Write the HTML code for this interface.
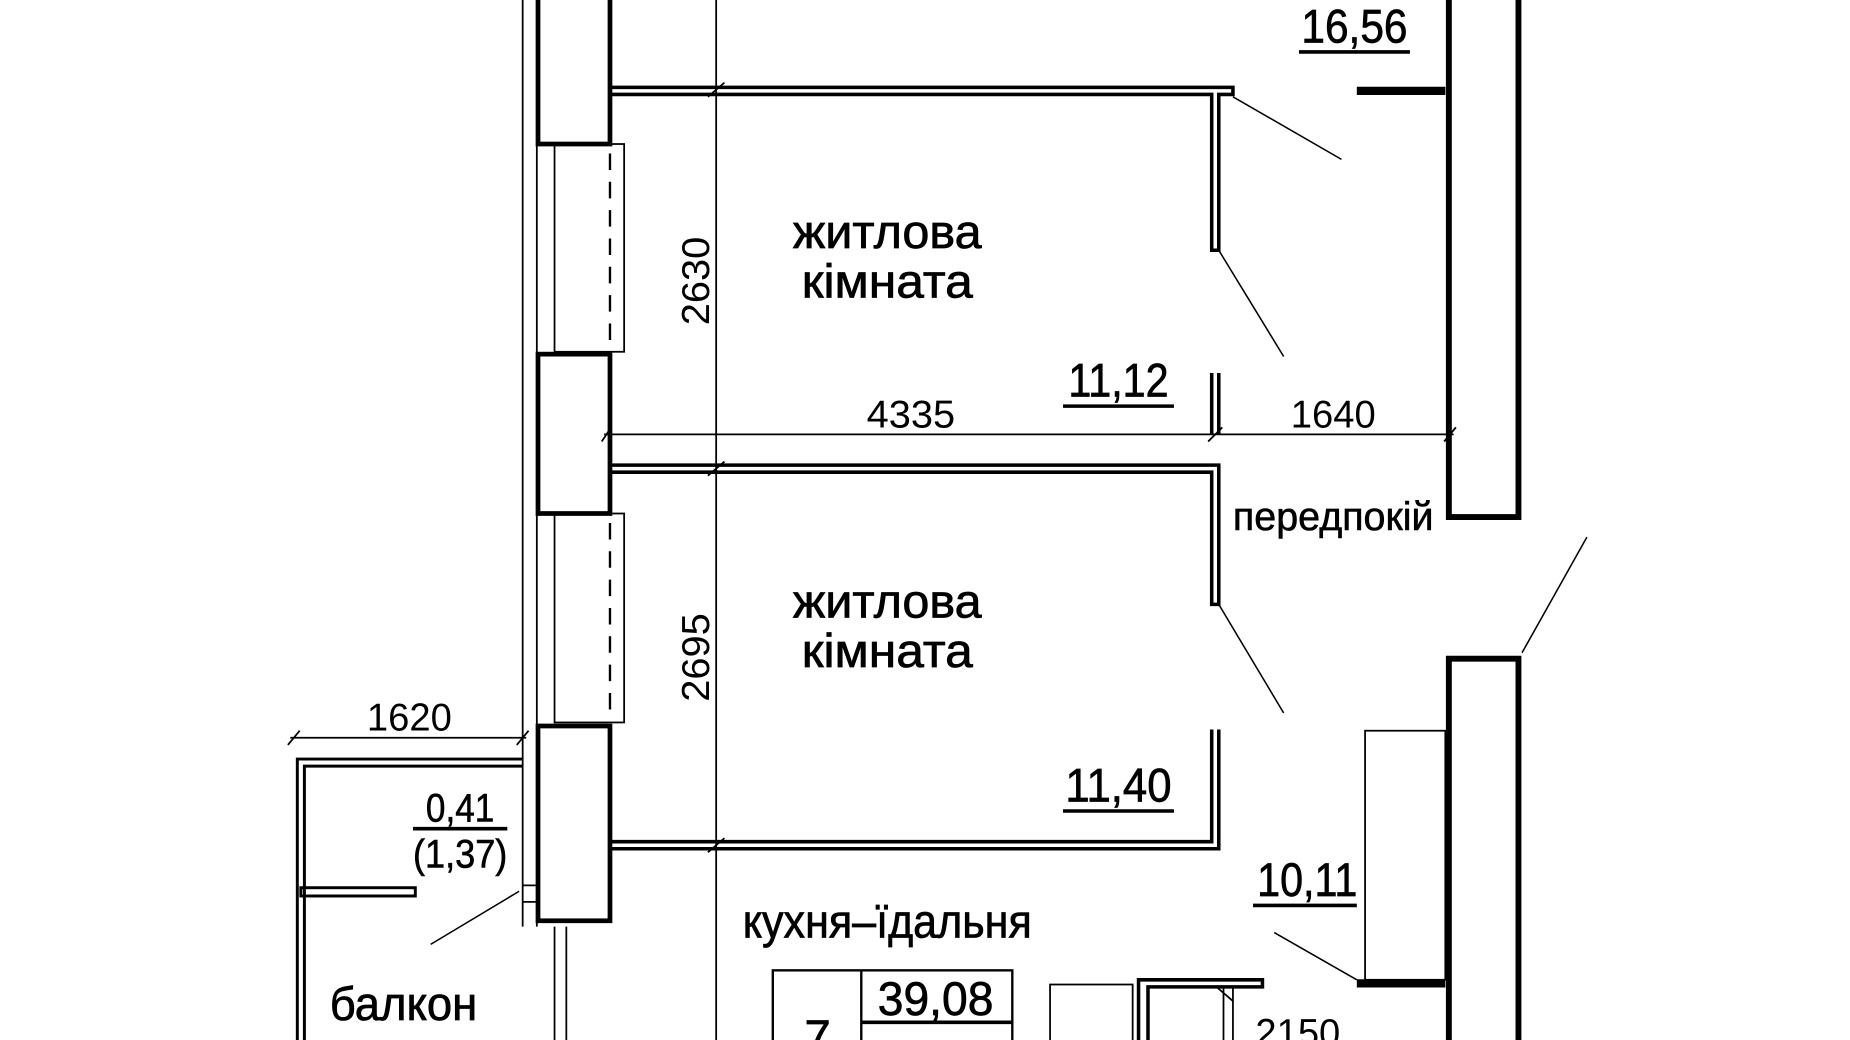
<!DOCTYPE html>
<html><head><meta charset="utf-8"><style>
html,body{margin:0;padding:0;background:#fff;}
svg{display:block;}
text{font-family:"Liberation Sans","DejaVu Sans",sans-serif;fill:#000;}
</style></head><body>
<svg width="1850" height="1040" viewBox="0 0 1568 881" preserveAspectRatio="none" xmlns="http://www.w3.org/2000/svg">
<rect width="1568" height="881" fill="#fff"/>
<g fill="none" stroke="#000">
<line x1="443" y1="0" x2="443" y2="785" stroke-width="1.5"/>
<line x1="455" y1="0" x2="455" y2="785" stroke-width="1.5"/>
<rect x="456" y="-5" width="61" height="127" stroke-width="4"/>
<rect x="456" y="300" width="61" height="135" stroke-width="4"/>
<rect x="456" y="615" width="61" height="165" stroke-width="4"/>
<rect x="470" y="122" width="59" height="176" stroke-width="1.5"/>
<rect x="470" y="435" width="59" height="177" stroke-width="1.5"/>
<line x1="517" y1="130" x2="517" y2="292" stroke-width="2" stroke-dasharray="14,10"/>
<line x1="517" y1="443" x2="517" y2="606" stroke-width="2" stroke-dasharray="14,10"/>
<path d="M517 74 H1045 V80 H1033 V212 H1027 V80 H517" stroke-width="3"/>
<path d="M1150 77 H1225" stroke-width="7"/>
<path d="M1027 316 V368 M1033 316 V368" stroke-width="3"/>
<path d="M517 394 H1033 V512 H1027 V400 H517" stroke-width="3"/>
<path d="M1027 618 V713 H517 M1033 618 V719 H517" stroke-width="3"/>
<rect x="1228" y="-5" width="59" height="443" stroke-width="5"/>
<rect x="1228" y="558" width="59" height="330" stroke-width="5"/>
<rect x="1157" y="619" width="68" height="211" stroke-width="1.5"/>
<path d="M1150 833 H1225" stroke-width="7"/>
<g stroke-width="1.3">
<line x1="1045" y1="82" x2="1137" y2="135"/>
<line x1="1033" y1="212" x2="1088" y2="302"/>
<line x1="1033" y1="512" x2="1088" y2="604"/>
<line x1="1290" y1="553" x2="1345" y2="455"/>
<line x1="1080" y1="790" x2="1150" y2="830"/>
<line x1="365" y1="800" x2="440" y2="755"/>
</g>
<g stroke-width="1.5">
<line x1="607" y1="0" x2="607" y2="881"/>
<line x1="512" y1="368" x2="1232" y2="368"/>
<line x1="246" y1="625" x2="446" y2="625"/>
<line x1="600" y1="82" x2="614" y2="70"/>
<line x1="600" y1="403" x2="614" y2="391"/>
<line x1="600" y1="722" x2="614" y2="710"/>
<line x1="510" y1="374" x2="518" y2="362"/>
<line x1="1024" y1="374" x2="1036" y2="362"/>
<line x1="1224" y1="374" x2="1234" y2="362"/>
<line x1="244" y1="631" x2="254" y2="619"/>
<line x1="438" y1="631" x2="448" y2="619"/>
<line x1="1045" y1="836" x2="1045" y2="881"/>
</g>
<path d="M443 643 H252 V881 M443 649 H258 V881" stroke-width="2.5"/>
<rect x="255" y="752" width="97" height="7" stroke-width="2.5"/>
<path d="M443 750 H455 M443 764 H455" stroke-width="1.5"/>
<path d="M470 785 V881 M480 785 V881" stroke-width="1.5"/>
<rect x="655" y="822" width="203" height="70" stroke-width="2"/>
<line x1="730" y1="822" x2="730" y2="881" stroke-width="2"/>
<line x1="730" y1="866" x2="858" y2="866" stroke-width="3"/>
<rect x="890" y="834" width="70" height="60" stroke-width="1.5"/>
<path d="M965 881 V830 H1070 V836 H973 V881" stroke-width="3"/>
<line x1="1037" y1="836" x2="1037" y2="881" stroke-width="1.5"/>
<line x1="1031" y1="836" x2="1045" y2="848" stroke-width="1.5"/>
</g>
<g font-size="40" stroke="#000" stroke-width="0.6">
<text x="1148" y="36" text-anchor="middle" textLength="90" lengthAdjust="spacingAndGlyphs">16,56</text>
<text x="752" y="210" text-anchor="middle" textLength="160" lengthAdjust="spacingAndGlyphs">житлова</text>
<text x="752" y="252" text-anchor="middle" textLength="145" lengthAdjust="spacingAndGlyphs">кімната</text>
<text x="948" y="336" text-anchor="middle" textLength="85" lengthAdjust="spacingAndGlyphs">11,12</text>
<text x="752" y="523" text-anchor="middle" textLength="160" lengthAdjust="spacingAndGlyphs">житлова</text>
<text x="752" y="565" text-anchor="middle" textLength="145" lengthAdjust="spacingAndGlyphs">кімната</text>
<text x="948" y="679" text-anchor="middle" textLength="90" lengthAdjust="spacingAndGlyphs">11,40</text>
<text x="1108" y="759" text-anchor="middle" textLength="85" lengthAdjust="spacingAndGlyphs">10,11</text>
<text x="752" y="794" text-anchor="middle" textLength="245" lengthAdjust="spacingAndGlyphs">кухня–їдальня</text>
<text x="342" y="864" text-anchor="middle" textLength="125" lengthAdjust="spacingAndGlyphs">балкон</text>
<text x="793" y="860" text-anchor="middle" textLength="98" lengthAdjust="spacingAndGlyphs">39,08</text>
<text x="693" y="892" text-anchor="middle">7</text>
</g>
<g stroke="#000" stroke-width="3">
<line x1="1101" y1="44" x2="1195" y2="44"/>
<line x1="901" y1="344" x2="995" y2="344"/>
<line x1="901" y1="687" x2="995" y2="687"/>
<line x1="1062" y1="767" x2="1150" y2="767"/>
<line x1="350" y1="702" x2="430" y2="702"/>
</g>
<g font-size="34" stroke="#000" stroke-width="0.5">
<text x="1130" y="449" text-anchor="middle" textLength="170" lengthAdjust="spacingAndGlyphs">передпокій</text>
<text x="390" y="696" text-anchor="middle" textLength="58" lengthAdjust="spacingAndGlyphs">0,41</text>
<text x="390" y="735" text-anchor="middle" textLength="80" lengthAdjust="spacingAndGlyphs">(1,37)</text>
</g>
<g font-size="33">
<text x="772" y="362" text-anchor="middle" textLength="75" lengthAdjust="spacingAndGlyphs">4335</text>
<text x="1130" y="362" text-anchor="middle" textLength="72" lengthAdjust="spacingAndGlyphs">1640</text>
<text x="347" y="619" text-anchor="middle" textLength="72" lengthAdjust="spacingAndGlyphs">1620</text>
<text x="1100" y="886" text-anchor="middle" textLength="72" lengthAdjust="spacingAndGlyphs">2150</text>
<text transform="translate(601,238) rotate(-90)" text-anchor="middle" textLength="75" lengthAdjust="spacingAndGlyphs">2630</text>
<text transform="translate(601,557) rotate(-90)" text-anchor="middle" textLength="75" lengthAdjust="spacingAndGlyphs">2695</text>
</g>
</svg>
</body></html>
